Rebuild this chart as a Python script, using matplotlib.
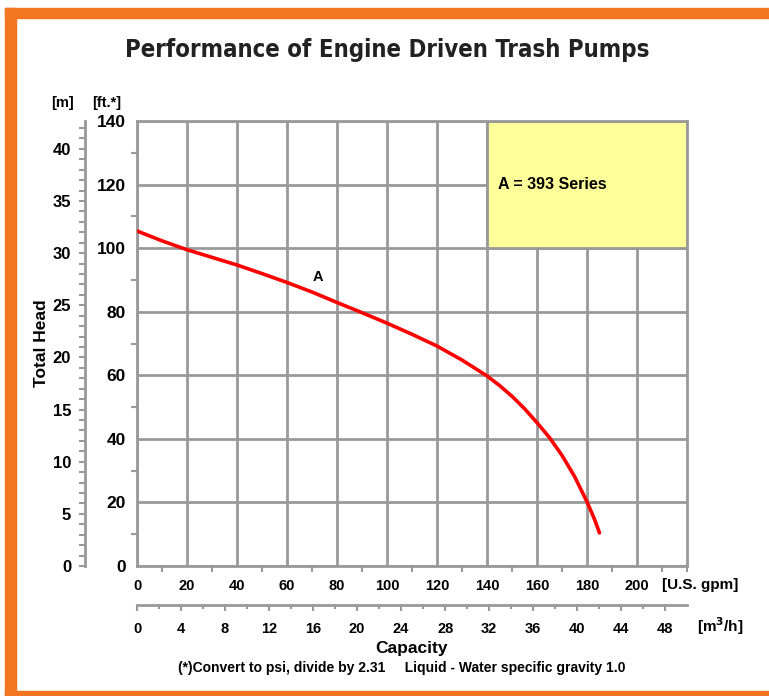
import matplotlib
matplotlib.use("Agg")
import matplotlib.pyplot as plt
from matplotlib.patches import Rectangle
from matplotlib.ticker import MultipleLocator

# ---- data ----
capacity_gpm = [0, 10, 20, 30, 40, 50, 60, 70, 80, 90, 100, 110, 120, 130, 140, 145, 150, 155, 160, 165, 170, 175, 180, 183, 185]
head_ft = [105.4, 102.3, 99.5, 97.1, 94.7, 92.0, 89.2, 86.2, 82.9, 79.7, 76.4, 72.9, 69.2, 64.8, 59.8, 56.8, 53.4, 49.5, 45.1, 40.4, 34.8, 28.2, 20.2, 14.7, 10.4]
series_label = "A"
legend_text = "A = 393 Series"
gpm_ticks = list(range(0, 201, 20))
ft_ticks = list(range(0, 141, 20))
m_ticks = list(range(0, 41, 5))
m3h_ticks = list(range(0, 49, 4))

FT_TO_M = 0.3048
GPM_TO_M3H = 0.2271247

W, H = 769, 696
fig = plt.figure(figsize=(W / 100, H / 100), dpi=100)
plt.rcParams['font.family'] = ['Liberation Sans', 'DejaVu Sans']

orange = '#F47521'
fig.patches.append(Rectangle((5 / W, 0), 11 / W, 1 - 8 / H, transform=fig.transFigure, color=orange, zorder=0))
fig.patches.append(Rectangle((5 / W, 1 - 18 / H), 1, 10 / H, transform=fig.transFigure, color=orange, zorder=0))
fig.patches.append(Rectangle((5 / W, 0), 1, 5 / H, transform=fig.transFigure, color=orange, zorder=0))

x0, x1, ytop, ybot = 137, 687, 121, 566
ax = fig.add_axes([x0 / W, (H - ybot) / H, (x1 - x0) / W, (ybot - ytop) / H])
gray = '#999999'
ax.set_xlim(0, 220)
ax.set_ylim(0, 140)
ax.set_xticks(gpm_ticks)
ax.set_yticks(ft_ticks)
ax.xaxis.set_minor_locator(MultipleLocator(10))
ax.yaxis.set_minor_locator(MultipleLocator(10))
ax.grid(True, which='major', color=gray, linewidth=2)
ax.set_axisbelow(True)
for s in ax.spines.values():
    s.set_color(gray)
    s.set_linewidth(2)
ax.tick_params(which='major', length=0, labelcolor='black')
ax.tick_params(axis='x', which='major', pad=9, labelsize=10.5)
ax.tick_params(axis='y', which='major', pad=8, labelsize=12.5)
ax.tick_params(which='minor', length=4, width=1.5, color=gray, direction='out')
for lab in ax.get_xticklabels() + ax.get_yticklabels():
    lab.set_fontweight('bold')

# yellow legend box
ax.add_patch(Rectangle((140, 100), 80, 40, facecolor='#FFFF99', edgecolor=gray, linewidth=2, zorder=2))
ax.text(144.5, 120, legend_text, fontsize=11.5, fontweight='bold', va='center', ha='left', zorder=3)

ax.plot(capacity_gpm, head_ft, color='#FF0000', linewidth=2.6, zorder=4,
        solid_capstyle='round', solid_joinstyle='round')
ax.text(72.5, 90.8, series_label, fontsize=10.5, fontweight='bold', ha='center', va='center', zorder=4)

# secondary meter axis
sec_y = ax.secondary_yaxis((85 - x0) / (x1 - x0), functions=(lambda v: v * FT_TO_M, lambda v: v / FT_TO_M))
sec_y.set_yticks(m_ticks)
sec_y.yaxis.set_minor_locator(MultipleLocator(1))
sec_y.spines['left'].set_color(gray)
sec_y.spines['left'].set_linewidth(2)
sec_y.tick_params(which='major', length=4, width=1.5, color=gray, pad=6, labelsize=12)
sec_y.tick_params(which='minor', length=4, width=1.5, color=gray)
for lab in sec_y.get_yticklabels():
    lab.set_fontweight('bold')

# secondary m3/h axis
sec_x = ax.secondary_xaxis(-(605 - ybot) / (ybot - ytop), functions=(lambda v: v * GPM_TO_M3H, lambda v: v / GPM_TO_M3H))
sec_x.set_xticks(m3h_ticks)
sec_x.xaxis.set_minor_locator(MultipleLocator(2))
sec_x.spines['bottom'].set_color(gray)
sec_x.spines['bottom'].set_linewidth(2)
sec_x.tick_params(which='major', length=4, width=1.5, color=gray, pad=8, labelsize=10.5)
sec_x.tick_params(which='minor', length=3, width=1.5, color=gray)
for lab in sec_x.get_xticklabels():
    lab.set_fontweight('bold')

def ftext(x, y, s, **kw):
    fig.text(x / W, 1 - y / H, s, **kw)

ftext(387, 50, "Performance of Engine Driven Trash Pumps", fontsize=17.2, fontweight='bold',
      fontstretch='condensed', ha='center', va='center', family=['DejaVu Sans'], color='#222222')
ftext(62, 103, "[m]", fontsize=10.5, fontweight='bold', ha='center', va='center')
ftext(107, 103, "[ft.*]", fontsize=10.5, fontweight='bold', ha='center', va='center')
ftext(42, 343, "Total Head", fontsize=12.5, fontweight='bold', ha='center', va='center', rotation=90)
ftext(662, 585, "[U.S. gpm]", fontsize=11, fontweight='bold', ha='left', va='center')
ftext(697, 626, "[m$^{\\mathbf{3}}$/h]", fontsize=11, fontweight='bold', ha='left', va='center')
ftext(412, 649, "Capacity", fontsize=12.5, fontweight='bold', ha='center', va='center')
ftext(402, 668, "(*)Convert to psi, divide by 2.31     Liquid - Water specific gravity 1.0",
      fontsize=10, fontweight='bold', ha='center', va='center')

fig.savefig("out.png", dpi=100)
